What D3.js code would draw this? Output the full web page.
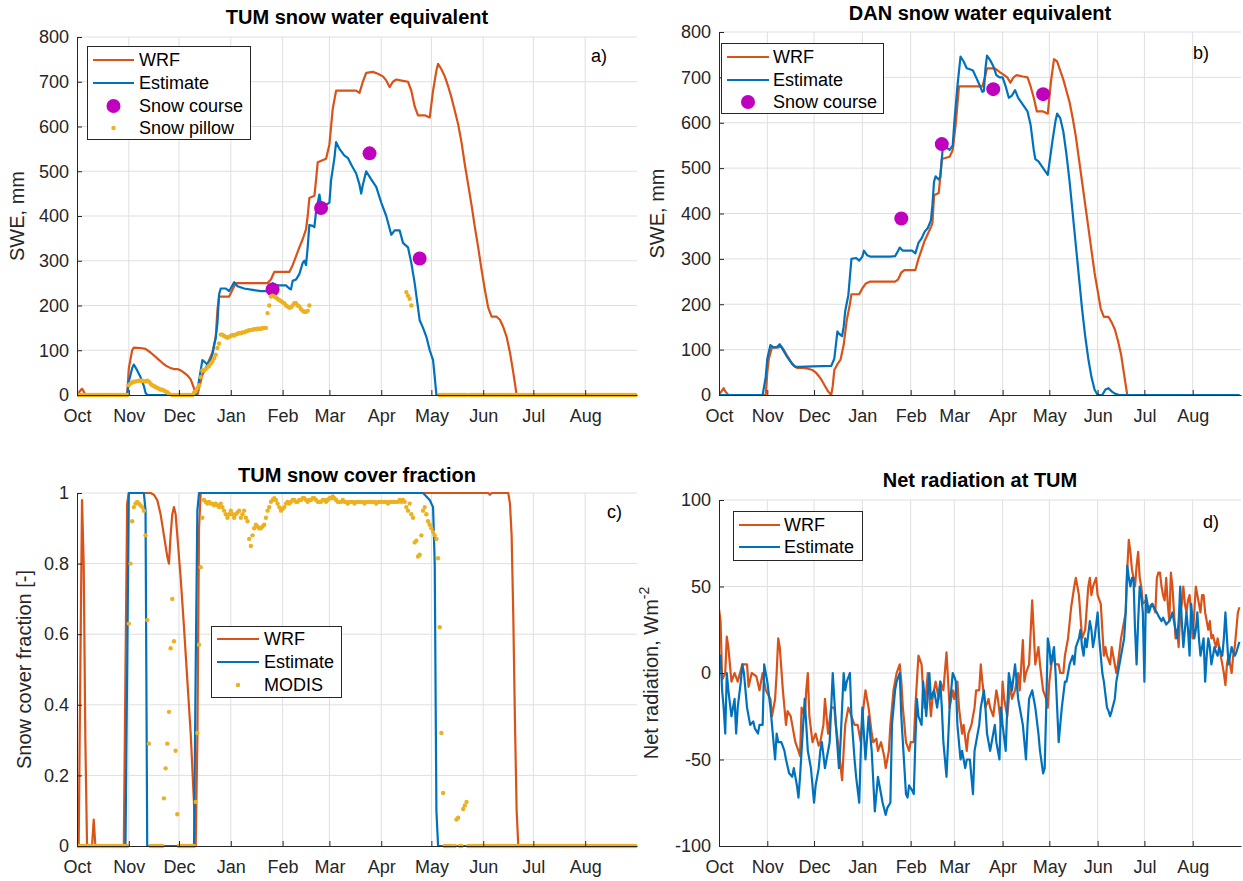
<!DOCTYPE html>
<html>
<head>
<meta charset="utf-8">
<script src="https://cdn.jsdelivr.net/npm/d3@7"></script>
<style>
  body { margin: 0; background: #fff; }
  svg { font-family: "Liberation Sans", Arial, Helvetica, sans-serif; display: block; }
</style>
</head>
<body>
<svg id="fig" width="1243" height="881"></svg>
<script>

// ---- a) TUM snow water equivalent (mm)
const tumSweWrf = [[0,0],[2,10],[3,14],[4,8],[5,0],[30,0],[31,60],[33,100],[34,106],[38,105],[41,103],[44,95],[48,82],[51,72],[53,66],[56,60],[58,58],[60,58],[62,55],[64,50],[66,44],[68,35],[70,15],[71,0],[72,0],[73,15],[75,45],[77,60],[79,78],[81,95],[83,130],[84,190],[85,220],[91,220],[93,235],[95,250],[114,250],[116,258],[118,275],[127,275],[129,290],[131,310],[133,330],[135,348],[137,370],[138,400],[139,440],[142,445],[143,480],[144,520],[149,528],[151,560],[153,640],[155,680],[167,680],[169,675],[171,700],[173,720],[177,722],[180,718],[183,712],[185,703],[187,688],[189,700],[191,705],[195,702],[198,700],[200,680],[202,645],[204,625],[208,625],[211,620],[213,680],[215,725],[216,740],[218,728],[220,712],[222,690],[224,665],[226,635],[228,605],[230,565],[232,515],[234,470],[236,425],[238,375],[240,330],[242,280],[244,235],[246,195],[248,175],[251,175],[253,168],[255,152],[257,130],[259,95],[261,50],[263,0],[334,0]];
const tumSweEst = [[0,0],[30,0],[31,30],[33,60],[34,68],[36,55],[38,40],[40,20],[41,5],[42,0],[71,0],[72,10],[74,55],[75,78],[76,75],[78,68],[80,80],[81,90],[82,110],[83,128],[84,160],[85,225],[86,238],[89,238],[91,232],[93,245],[94,252],[96,243],[100,238],[105,235],[110,232],[116,232],[117,250],[119,245],[125,245],[127,238],[128,236],[129,255],[131,258],[133,270],[135,295],[136,300],[137,290],[138,330],[139,380],[141,378],[142,375],[143,410],[145,448],[146,425],[147,410],[149,425],[151,430],[152,480],[154,530],[155,565],[157,550],[160,535],[162,530],[164,515],[167,495],[169,470],[170,450],[171,470],[173,500],[176,482],[179,465],[182,430],[185,400],[188,358],[190,368],[193,368],[195,340],[198,330],[200,295],[202,250],[205,167],[207,150],[209,130],[211,100],[213,78],[214,40],[215,0],[334,0]];
const tumCourse = [[117,236],[146,418],[175,540],[205,305]];
const tumPillow = [[31,22],[32,26],[33,28],[34,30],[35,30],[36,31],[37,32],[38,32],[39,32],[40,31],[41,30],[42,32],[43,30],[44,25],[45,22],[46,20],[47,18],[48,16],[49,14],[50,12],[51,12],[52,10],[53,8],[54,6],[55,3],
  [70,5],[71,8],[72,15],[73,22],[74,40],[75,55],[76,55],[77,58],[78,62],[79,65],[80,70],[81,75],[82,82],[83,90],[84,105],[85,115],[86,135],[87,135],[88,132],[89,130],[90,128],[91,130],[92,132],[93,134],[94,133],[95,135],[96,137],[97,138],[98,138],[99,140],[100,140],[101,142],[102,143],[103,145],[104,145],[105,146],[106,147],[107,147],[108,148],[109,148],[110,148],[111,149],[112,150],[113,150],
  [114,183],[115,200],[116,220],[117,222],[118,220],[119,218],[120,215],[121,212],[122,210],[123,207],[124,205],[125,200],[126,198],[127,195],[128,196],[129,200],[130,205],[131,205],[132,200],[133,198],[134,192],[135,188],[136,186],[137,186],[138,188],[139,200],
  [197,230],[198,222],[199,215],[200,200]];
const tumPillowZeroSpans = [[0,30],[57,69],[217,233],[235,334]];

// ---- b) DAN snow water equivalent (mm)
const danSweWrf = [[0,0],[2,10],[3,15],[4,8],[6,0],[30,0],[31,50],[32,80],[34,105],[38,105],[40,107],[42,97],[44,85],[46,74],[48,65],[50,60],[53,60],[57,58],[60,55],[62,50],[64,42],[66,32],[68,20],[70,8],[72,0],[73,20],[74,55],[76,68],[78,78],[80,110],[82,165],[84,200],[85,222],[90,222],[92,235],[94,245],[97,250],[113,250],[115,255],[117,270],[119,275],[126,275],[128,300],[130,320],[132,340],[134,355],[136,370],[137,380],[138,440],[141,445],[142,480],[143,520],[148,525],[150,540],[152,600],[154,680],[169,680],[171,705],[172,720],[177,720],[180,712],[183,705],[185,700],[187,688],[189,700],[191,705],[195,702],[198,700],[200,680],[202,655],[204,625],[208,625],[211,620],[213,690],[215,740],[217,735],[219,715],[221,695],[223,670],[225,645],[227,610],[229,570],[231,520],[233,470],[235,420],[237,370],[239,320],[241,270],[243,230],[245,190],[247,172],[250,172],[252,160],[254,145],[256,120],[258,90],[260,45],[262,0],[334,0]];
const danSweEst = [[0,0],[28,0],[30,40],[31,80],[33,110],[35,105],[37,105],[39,112],[41,100],[43,88],[45,78],[47,68],[49,62],[52,62],[60,63],[72,64],[74,80],[75,110],[76,140],[77,135],[79,130],[80,150],[81,185],[83,220],[84,260],[85,300],[88,302],[90,296],[92,305],[93,318],[95,308],[97,305],[110,305],[113,306],[115,318],[116,325],[118,318],[124,318],[126,312],[128,335],[130,345],[132,360],[134,368],[136,385],[137,420],[138,470],[139,482],[141,475],[142,480],[143,520],[144,560],[146,545],[148,540],[150,550],[151,600],[153,680],[155,746],[157,735],[159,720],[161,718],[163,715],[165,700],[167,685],[169,668],[170,670],[171,720],[172,748],[174,738],[176,725],[178,705],[180,700],[182,700],[184,680],[186,655],[188,660],[190,672],[192,655],[194,645],[196,635],[198,625],[200,595],[202,540],[203,520],[205,515],[207,505],[209,495],[211,485],[212,510],[214,560],[216,605],[217,620],[219,610],[221,580],[223,530],[225,470],[227,400],[229,330],[231,260],[233,190],[235,130],[237,80],[239,40],[241,12],[243,0],[246,0],[248,12],[250,15],[252,8],[254,3],[257,0],[334,0]];
const danCourse = [[117,389],[143,553],[176,674],[208,663]];

// ---- c) TUM snow cover fraction (-)
const scfWrf = [[0,0],[1,0],[2,0.5],[3,0.98],[4,0.8],[5,0.3],[6,0],[9,0],[10,0.075],[11,0],[28,0],[29,0.5],[30,0.97],[31,1],[44,1],[46,0.995],[48,0.98],[50,0.94],[52,0.88],[54,0.82],[55,0.8],[56,0.88],[57,0.94],[58,0.96],[59,0.94],[60,0.88],[62,0.76],[64,0.62],[66,0.47],[68,0.32],[70,0.12],[71,0],[72,0.3],[73,0.9],[74,1],[246,1],[247,0.995],[248,1],[258,1],[259,0.97],[260,0.88],[261,0.65],[262,0.35],[263,0.1],[264,0],[334,0]];
const scfEst = [[0,0],[29,0],[30,0.5],[31,1],[40,1],[41,0.95],[42,0],[70,0],[71,0.5],[72,0.95],[73,1],[207,1],[209,0.99],[211,0.98],[213,0.96],[214,0.8],[215,0.1],[216,0],[334,0]];
const scfModis = [[31,0.63],[32,0.80],[33,0.92],[34,0.96],[35,0.97],[36,0.975],[37,0.97],[38,0.965],[39,0.96],[40,0.95],[41,0.88],[42,0.64],[43,0.29],
  [52,0.135],[53,0.22],[54,0.29],[55,0.38],[56,0.56],[57,0.70],[58,0.58],[59,0.27],[60,0.09],
  [71,0.125],[72,0.32],[73,0.57],[74,0.79],[75,0.93],[76,0.98],[77,0.975],[78,0.97],[79,0.975],[80,0.97],[81,0.97],[82,0.965],[83,0.97],[84,0.965],[85,0.96],[86,0.97],[87,0.96],[88,0.95],[89,0.94],[90,0.93],[91,0.94],[92,0.95],[93,0.94],[94,0.93],[95,0.94],[96,0.945],[97,0.95],[98,0.93],[99,0.94],[100,0.95],[101,0.93],[102,0.92],[103,0.87],[104,0.85],[105,0.88],[106,0.90],[107,0.91],[108,0.905],[109,0.90],[110,0.90],[111,0.905],[112,0.91],[113,0.93],[114,0.95],[115,0.96],[116,0.975],[117,0.98],[118,0.985],[119,0.98],[120,0.97],[121,0.96],[122,0.95],[123,0.955],[124,0.96],[125,0.97],[126,0.975],[127,0.97],[128,0.975],[129,0.98],[130,0.98],[131,0.975],[132,0.975],[133,0.98],[134,0.98],[135,0.985],[136,0.985],[137,0.98],[138,0.975],[139,0.98],[140,0.98],[141,0.985],[142,0.985],[143,0.98],[144,0.975],[145,0.975],[146,0.975],[147,0.98],[148,0.98],[149,0.975],[150,0.98],[151,0.985],[152,0.985],[153,0.99],[154,0.985],[155,0.98],[156,0.975],[157,0.975],[158,0.975],[159,0.98],[160,0.975],[161,0.975],[162,0.97],[163,0.975],[164,0.975],[165,0.975],[166,0.97],[167,0.975],[168,0.975],[169,0.975],[170,0.975],[171,0.975],[172,0.97],[173,0.975],[174,0.975],[175,0.975],[176,0.975],[177,0.975],[178,0.975],[179,0.97],[180,0.975],[181,0.975],[182,0.975],[183,0.975],[184,0.975],[185,0.975],[186,0.97],[187,0.975],[188,0.975],[189,0.975],[190,0.975],[191,0.975],[192,0.975],[193,0.98],[194,0.975],[195,0.98],[196,0.975],[197,0.96],[198,0.95],[199,0.97],[200,0.94],[201,0.93],[202,0.86],[203,0.865],[204,0.82],[205,0.825],[206,0.88],[207,0.95],[208,0.96],[209,0.94],[210,0.92],[211,0.91],[212,0.90],[213,0.89],[214,0.88],[215,0.87],[216,0.815],[217,0.62],[218,0.32],[219,0.15],
  [227,0.075],[228,0.08],[231,0.105],[232,0.115],[233,0.125]];
const scfModisZeroSpans = [[0,30],[44,51],[61,70],[220,224],[226,226],[229,230],[234,334]];

// ---- d) Net radiation at TUM (W m-2)
const rnWrf = [[0,37],[1,30],[2,-4],[4,0],[5,21],[6,15],[8,-5],[10,0],[12,-5],[15,5],[18,5],[19,-8],[21,0],[24,-2],[26,-10],[28,0],[30,-10],[33,-15],[34,-25],[36,-15],[37,0],[38,20],[39,15],[41,-10],[43,-30],[44,-22],[46,-25],[47,-30],[49,-40],[51,-45],[52,-48],[53,-20],[55,-25],[56,-10],[57,0],[58,-25],[60,-40],[62,-35],[64,-42],[65,-40],[67,-30],[68,-15],[70,-35],[72,-20],[74,-20],[75,-30],[77,-45],[79,-62],[80,-45],[81,-30],[83,-20],[85,-25],[87,-30],[89,-30],[91,-40],[92,-25],[94,-10],[96,-20],[98,-35],[99,-40],[101,-38],[102,-45],[104,-40],[106,-48],[107,-55],[109,-45],[110,-30],[112,-10],[114,0],[116,5],[117,-5],[118,-20],[120,-40],[122,-45],[123,-40],[125,-40],[126,-20],[128,10],[130,5],[131,-10],[132,-20],[134,0],[136,-25],[137,-15],[139,-5],[141,-15],[142,-5],[144,-10],[146,12],[148,-20],[150,-10],[151,-15],[153,-5],[154,-20],[156,-35],[157,-30],[159,-45],[160,-35],[162,-30],[164,-20],[165,-10],[167,-10],[168,5],[169,-5],[171,-20],[173,-15],[174,-20],[176,-25],[178,-10],[179,-15],[181,-30],[182,-5],[183,-15],[185,-25],[187,-5],[188,-15],[190,-10],[192,0],[193,-10],[195,19],[196,-5],[197,0],[199,5],[201,42],[203,5],[205,15],[206,5],[208,-10],[210,-15],[211,-20],[212,-5],[214,10],[216,5],[218,5],[219,0],[221,0],[222,10],[224,20],[226,38],[228,50],[229,55],[230,50],[231,45],[233,20],[235,25],[237,50],[238,55],[239,45],[240,50],[242,55],[243,45],[245,40],[247,10],[248,15],[249,10],[251,5],[252,15],[253,10],[255,0],[256,5],[258,20],[260,30],[261,35],[262,60],[263,77],[264,70],[265,60],[266,55],[267,50],[268,62],[269,70],[270,55],[271,50],[272,40],[274,42],[275,35],[276,38],[278,40],[279,38],[280,35],[281,55],[282,58],[283,58],[284,50],[285,45],[286,42],[287,55],[288,40],[289,30],[290,58],[291,50],[292,35],[293,20],[294,25],[295,15],[296,35],[297,40],[298,50],[299,40],[300,35],[301,42],[302,45],[303,35],[304,20],[305,35],[306,50],[307,45],[308,40],[309,35],[310,45],[311,45],[312,35],[313,30],[314,25],[315,30],[316,20],[317,22],[318,18],[319,15],[320,20],[321,15],[322,10],[323,5],[324,0],[325,-7],[326,5],[327,10],[328,5],[329,0],[330,10],[331,15],[332,25],[333,35],[334,38]];
const rnEst = [[0,5],[1,10],[2,-10],[3,-20],[4,-35],[5,0],[6,-10],[8,-25],[10,-15],[11,-35],[12,-20],[14,-5],[15,5],[16,0],[18,-20],[20,-30],[22,-28],[23,-32],[25,-35],[26,-30],[28,-30],[29,5],[30,0],[31,-5],[33,-20],[34,-30],[36,-50],[37,-35],[38,-40],[40,-40],[42,-45],[43,-50],[45,-58],[47,-60],[48,-55],[50,-65],[51,-72],[52,-60],[53,-45],[55,-15],[56,-30],[57,-45],[59,-55],[61,-75],[62,-65],[64,-55],[65,-45],[66,-40],[68,-55],[69,-50],[71,-40],[72,-20],[73,0],[74,-15],[75,-30],[77,-55],[78,-40],[80,0],[81,-10],[82,-5],[84,0],[85,-25],[87,-50],[88,-60],[90,-75],[91,-45],[92,-20],[93,-35],[94,-50],[96,-25],[97,-35],[98,-45],[100,-80],[101,-70],[102,-60],[103,-65],[105,-75],[107,-82],[108,-78],[110,-75],[111,-30],[113,-10],[114,-5],[116,0],[117,-25],[118,-40],[120,-70],[121,-72],[122,-65],[124,-68],[125,-70],[126,-40],[127,-15],[128,-25],[130,-30],[131,-5],[132,-15],[133,-25],[135,0],[136,-15],[138,-10],[139,-15],[140,-20],[142,-5],[143,-20],[144,-40],[146,-60],[147,-40],[148,-20],[150,0],[151,-2],[152,-5],[153,-30],[155,-50],[156,-45],[158,-55],[159,-50],[161,-50],[163,-70],[164,-45],[165,-40],[167,-30],[168,-20],[170,-10],[171,-20],[172,-35],[174,-45],[175,-40],[177,-30],[178,-40],[180,-50],[181,-20],[182,-30],[184,-45],[185,-20],[186,0],[187,-5],[188,-10],[190,5],[191,-5],[192,-15],[194,-25],[195,-30],[197,-50],[198,-30],[199,-15],[201,-10],[202,-15],[203,-20],[205,-35],[206,-45],[208,-58],[209,-55],[210,-20],[211,20],[212,15],[213,5],[214,10],[215,15],[216,0],[218,-40],[219,-30],[220,-20],[222,-5],[223,-5],[224,0],[225,5],[227,10],[228,5],[229,15],[231,20],[232,25],[233,15],[234,10],[235,20],[236,15],[238,30],[239,25],[240,15],[241,20],[243,35],[244,20],[245,10],[246,0],[247,-5],[249,-20],[250,-22],[251,-25],[252,-22],[254,-15],[255,-5],[256,0],[258,10],[259,15],[260,20],[261,35],[262,62],[263,55],[264,50],[265,55],[266,55],[267,25],[268,5],[269,30],[270,50],[271,45],[272,35],[273,-5],[274,45],[275,40],[276,35],[277,38],[278,40],[279,38],[281,35],[282,33],[284,30],[285,32],[287,28],[289,30],[290,32],[291,35],[292,30],[293,25],[294,20],[295,30],[296,50],[297,30],[298,15],[299,25],[300,35],[301,25],[302,10],[303,40],[304,30],[305,20],[306,25],[307,35],[308,20],[309,10],[310,15],[311,20],[312,-5],[313,10],[314,20],[315,15],[316,5],[317,10],[318,15],[319,12],[320,10],[321,15],[322,12],[323,10],[324,20],[325,35],[326,20],[327,5],[328,10],[329,15],[330,12],[331,10],[332,12],[333,15],[334,18]];

const sweTicks = [0,100,200,300,400,500,600,700,800];
const scfTicks = [0,0.2,0.4,0.6,0.8,1];
const rnTicks = [-100,-50,0,50,100];

const startDate = new Date(2016, 9, 1);
const endDate = new Date(2017, 8, 1);
const monthTicks = d3.timeMonth.range(startDate, new Date(2017, 7, 2));

const colWrf = "#D95319", colEst = "#0072BD", colCourse = "#BF00BF", colObs = "#EDB120";
const axisCol = "#262626", gridCol = "#dfdfdf";

const svg = d3.select("#fig");
svg.append("rect").attr("width", 1243).attr("height", 881).attr("fill", "#fff");

const toDate = d => new Date(startDate.getTime() + d * 864e5);
const zeroDots = spans => spans.flatMap(([a, b]) => d3.range(a, b + 1).map(d => [d, 0]));

const panels = [
  { key: "a", box: [77, 637, 37, 395], yDom: [0, 800], yTicks: sweTicks, title: "TUM snow water equivalent", titleY: 24,
    ylabel: ["SWE, mm"], ylabX: 24, tag: "a)", tagPos: [591, 62],
    lines: [[tumSweWrf, colWrf], [tumSweEst, colEst]], course: tumCourse, dots: tumPillow.concat(zeroDots(tumPillowZeroSpans)),
    legend: { x: 87, y: 46, w: 163, h: 93, rows: [60, 83, 106, 128], sample: [93, 134], textX: 139,
      items: [["WRF", "line", colWrf], ["Estimate", "line", colEst], ["Snow course", "big", colCourse], ["Snow pillow", "dot", colObs]] } },
  { key: "b", box: [719, 1241, 32, 395], yDom: [0, 800], yTicks: sweTicks, title: "DAN snow water equivalent", titleY: 20,
    ylabel: ["SWE, mm"], ylabX: 664, tag: "b)", tagPos: [1193, 59],
    lines: [[danSweWrf, colWrf], [danSweEst, colEst]], course: danCourse, dots: null,
    legend: { x: 721, y: 43, w: 162, h: 70, rows: [57, 80, 102], sample: [727, 769], textX: 773,
      items: [["WRF", "line", colWrf], ["Estimate", "line", colEst], ["Snow course", "big", colCourse]] } },
  { key: "c", box: [77, 637, 493, 846], yDom: [0, 1], yTicks: scfTicks, title: "TUM snow cover fraction", titleY: 482,
    ylabel: ["Snow cover fraction [-]"], ylabX: 31, tag: "c)", tagPos: [607, 518],
    lines: [[scfWrf, colWrf], [scfEst, colEst]], course: null, dots: scfModis.concat(zeroDots(scfModisZeroSpans)),
    legend: { x: 211, y: 626, w: 130, h: 71, rows: [639, 662, 685], sample: [217, 259], textX: 264,
      items: [["WRF", "line", colWrf], ["Estimate", "line", colEst], ["MODIS", "dot", colObs]] } },
  { key: "d", box: [719, 1241, 500, 846], yDom: [-100, 100], yTicks: rnTicks, title: "Net radiation at TUM", titleY: 487,
    ylabel: ["Net radiation, Wm", "-2"], ylabX: 658, tag: "d)", tagPos: [1203, 528],
    lines: [[rnWrf, colWrf], [rnEst, colEst]], course: null, dots: null,
    legend: { x: 733, y: 511, w: 129, h: 49, rows: [525, 547], sample: [739, 780], textX: 784,
      items: [["WRF", "line", colWrf], ["Estimate", "line", colEst]] } }
];

panels.forEach(p => {
  const [left, right, top, bottom] = p.box;
  const x = d3.scaleTime().domain([startDate, endDate]).range([left, right]);
  const y = d3.scaleLinear().domain(p.yDom).range([bottom, top]);
  const g = svg.append("g");

  // grid
  g.append("g").selectAll("line").data(monthTicks.slice(1)).join("line")
    .attr("x1", d => x(d)).attr("x2", d => x(d)).attr("y1", top).attr("y2", bottom)
    .attr("stroke", gridCol).attr("stroke-width", 1);
  g.append("g").selectAll("line").data(p.yTicks.slice(1)).join("line")
    .attr("x1", left).attr("x2", right).attr("y1", d => y(d)).attr("y2", d => y(d))
    .attr("stroke", gridCol).attr("stroke-width", 1);

  // data
  const clipId = "clip-" + p.key;
  svg.append("clipPath").attr("id", clipId).append("rect")
    .attr("x", left).attr("y", top - 4).attr("width", right - left + 2).attr("height", bottom - top + 8);
  const plot = g.append("g").attr("clip-path", `url(#${clipId})`);
  const line = d3.line().x(d => x(toDate(d[0]))).y(d => y(d[1]));
  p.lines.forEach(([data, col]) => {
    plot.append("path").datum(data).attr("d", line)
      .attr("fill", "none").attr("stroke", col).attr("stroke-width", 2.2).attr("stroke-linejoin", "round");
  });
  if (p.course) {
    plot.append("g").selectAll("circle").data(p.course).join("circle")
      .attr("cx", d => x(toDate(d[0]))).attr("cy", d => y(d[1])).attr("r", 7).attr("fill", colCourse);
  }
  if (p.dots) {
    plot.append("g").selectAll("circle").data(p.dots).join("circle")
      .attr("cx", d => x(toDate(d[0]))).attr("cy", d => y(d[1])).attr("r", 2.2).attr("fill", colObs);
  }

  // axes (MATLAB-style: inward ticks, plain hyphen minus)
  const xAxis = d3.axisBottom(x).tickValues(monthTicks).tickFormat(d3.timeFormat("%b"))
    .tickSizeInner(-5).tickSizeOuter(0).tickPadding(14);
  const xg = g.append("g").attr("transform", `translate(0,${bottom})`).call(xAxis);
  const yAxis = d3.axisLeft(y).tickValues(p.yTicks).tickFormat(v => String(+v.toFixed(2)))
    .tickSizeInner(-5).tickSizeOuter(0).tickPadding(8);
  const yg = g.append("g").attr("transform", `translate(${left},0)`).call(yAxis);
  [xg, yg].forEach(ax => {
    ax.select(".domain").attr("stroke", axisCol).attr("stroke-width", 1);
    ax.selectAll(".tick line").attr("stroke", axisCol);
    ax.selectAll("text").attr("fill", axisCol).attr("font-size", 18);
  });

  // title, y label, tag
  g.append("text").attr("x", (left + right) / 2).attr("y", p.titleY).attr("text-anchor", "middle")
    .attr("font-weight", "bold").attr("font-size", 20).attr("fill", "#000").text(p.title);
  const yl = g.append("text").attr("transform", `translate(${p.ylabX},${(top + bottom) / 2}) rotate(-90)`)
    .attr("text-anchor", "middle").attr("font-size", 20).attr("fill", axisCol);
  yl.append("tspan").text(p.ylabel[0]);
  if (p.ylabel[1]) yl.append("tspan").attr("dy", -9).attr("font-size", 14).text(p.ylabel[1]);
  g.append("text").attr("x", p.tagPos[0]).attr("y", p.tagPos[1]).attr("font-size", 18).attr("fill", "#000").text(p.tag);

  // legend
  const L = p.legend;
  const lg = g.append("g");
  lg.append("rect").attr("x", L.x + 0.5).attr("y", L.y + 0.5).attr("width", L.w).attr("height", L.h)
    .attr("fill", "#fff").attr("stroke", axisCol).attr("stroke-width", 1);
  L.items.forEach(([label, kind, col], i) => {
    const cy = L.rows[i];
    if (kind === "line") {
      lg.append("line").attr("x1", L.sample[0]).attr("x2", L.sample[1]).attr("y1", cy).attr("y2", cy)
        .attr("stroke", col).attr("stroke-width", 2.2);
    } else {
      lg.append("circle").attr("cx", (L.sample[0] + L.sample[1]) / 2).attr("cy", cy)
        .attr("r", kind === "big" ? 7 : 2.2).attr("fill", col);
    }
    lg.append("text").attr("x", L.textX).attr("y", cy).attr("dy", "0.35em")
      .attr("font-size", 18).attr("fill", "#000").text(label);
  });
});
</script>
</body>
</html>
